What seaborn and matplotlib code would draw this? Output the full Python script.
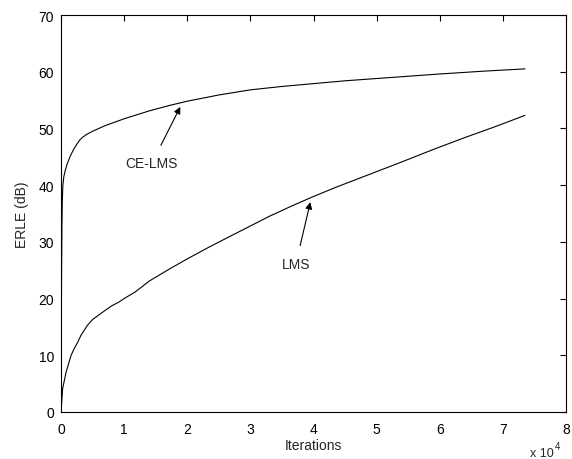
import numpy as np
import pandas as pd
import matplotlib
matplotlib.use("Agg")
import matplotlib.pyplot as plt
import seaborn as sns

# Data
ce_iter = [0, 30, 60, 100, 150, 200, 300, 450, 700, 1000, 1500, 2000, 2500,
           3000, 3500, 4000, 5000, 6000, 7000, 8500, 10000, 12000, 14000,
           17000, 20000, 25000, 30000, 35000, 40000, 45000, 50000, 55000,
           60000, 67000, 73500]
ce_erle = [0, 8, 18, 26, 33, 37, 40, 41.5, 42.7, 43.8, 45.2, 46.3, 47.2,
           48, 48.5, 48.9, 49.5, 50, 50.5, 51.1, 51.7, 52.4, 53.1,
           54, 54.8, 55.9, 56.8, 57.4, 57.9, 58.4, 58.8, 59.2,
           59.6, 60.1, 60.5]

lms_iter = [0, 260, 800, 1600, 2100, 2600, 3200, 4200, 5000, 6600, 8000,
            9200, 10000, 11800, 14000, 17000, 20000, 23500, 27000, 30000,
            33000, 36500, 40000, 43500, 47000, 50500, 54000, 59000, 64000,
            69000, 73500]
lms_erle = [0, 4.1, 7, 10, 11.2, 12.2, 13.6, 15.3, 16.3, 17.6, 18.7,
            19.4, 20, 21.2, 23.1, 25.1, 27, 29.1, 31.1, 32.8,
            34.5, 36.3, 38, 39.6, 41.1, 42.6, 44.1, 46.3, 48.4,
            50.4, 52.3]

x_ticks = [0, 1, 2, 3, 4, 5, 6, 7, 8]
y_ticks = [0, 10, 20, 30, 40, 50, 60, 70]

sns.set_style("white")
plt.rcParams['font.family'] = ['Liberation Sans', 'DejaVu Sans']
plt.rcParams['font.size'] = 10

df = pd.concat([
    pd.DataFrame({"x": np.array(ce_iter) / 1e4, "y": ce_erle, "alg": "CE-LMS"}),
    pd.DataFrame({"x": np.array(lms_iter) / 1e4, "y": lms_erle, "alg": "LMS"}),
])

fig = plt.figure(figsize=(5.72, 4.6), dpi=100)
ax = fig.add_axes([61/572, 1 - 413/460, (566 - 61)/572, (413 - 16)/460])

sns.lineplot(data=df, x="x", y="y", units="alg", estimator=None,
             color="black", linewidth=0.8, ax=ax, sort=False, legend=False)

ax.set_xlim(0, 8)
ax.set_ylim(0, 70)
ax.set_xticks(x_ticks)
ax.set_yticks(y_ticks)
ax.tick_params(direction="in", length=4, width=0.8, top=True, right=True,
               labelsize=10, colors="black")
ax.tick_params(axis="x", pad=7)
ax.tick_params(axis="y", pad=5)
for s in ax.spines.values():
    s.set_visible(True)
    s.set_color("black")
    s.set_linewidth(0.8)

ax.set_xlabel("Iterations", fontsize=10, labelpad=2)
ax.set_ylabel("ERLE (dB)", fontsize=10, labelpad=7)

ax.annotate("CE-LMS", xy=(1.89, 53.8), xytext=(1.44, 43.9),
            ha="center", va="center", fontsize=10,
            arrowprops=dict(arrowstyle="-|>", color="black", lw=0.8,
                            mutation_scale=10, shrinkA=6, shrinkB=0))
ax.annotate("LMS", xy=(3.95, 37.0), xytext=(3.72, 26.1),
            ha="center", va="center", fontsize=10,
            arrowprops=dict(arrowstyle="-|>", color="black", lw=0.8,
                            mutation_scale=10, shrinkA=6, shrinkB=0))

fig.text(530/572, 1 - 457/460, "x 10", ha="left", va="baseline", fontsize=9)
fig.text(555/572, 1 - 450/460, "4", ha="left", va="baseline", fontsize=7)

fig.savefig("out.png", dpi=100)
